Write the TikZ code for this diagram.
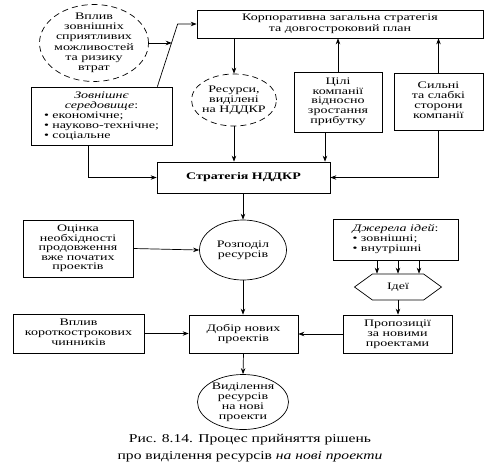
\documentclass[tikz,border=0pt]{standalone}
\usepackage{graphicx}
\usepackage{fontspec}
\setmainfont{Liberation Serif}
\usetikzlibrary{arrows.meta,shapes.geometric,shapes.symbols,calc}
\newcommand\hsx[1]{\scalebox{1.4}[1]{\begin{tabular}{@{}c@{}}#1\end{tabular}}}
\newcommand\hsl[1]{\scalebox{1.4}[1]{\begin{tabular}{@{}l@{}}#1\end{tabular}}}
\newcommand\ctr[1]{\multicolumn{1}{@{}c@{}}{#1}}
\begin{document}
\begin{tikzpicture}[x=1pt,y=-1pt,
  every node/.style={inner sep=0pt, font=\fontsize{10}{10}\selectfont, text=black},
  boxnode/.style={draw, rectangle},
  dashell/.style={draw, ellipse, dash pattern=on 6pt off 4pt},
  solell/.style={draw, ellipse},
  arr/.style={-{Stealth[length=6pt,width=4.5pt]}},
  line width=0.7pt]
\useasboundingbox (0,0) rectangle (492,467);

% top row
\node[boxnode, minimum width=286, minimum height=28, font=\fontsize{10}{11}\selectfont] (corp) at (340,24)
  {\hsx{Корпоративна загальна стратегія\\та довгостроковий план}};
\node[dashell, minimum width=109, minimum height=77, inner ysep=-12pt, inner xsep=-4pt, font=\fontsize{10}{10.3}\selectfont] (infl) at (94,43)
  {\hsx{Вплив\\зовнішніх\\сприятливих\\можливостей\\та ризику\\втрат}};

% second row
\node[boxnode, minimum width=141, minimum height=58] (env) at (101.5,116)
  {\hsl{\ctr{\itshape Зовнішнє}\\\ctr{\itshape середовище\upshape:}\\\textbullet\ економічне;\\\textbullet\ науково-технічне;\\\textbullet\ соціальне}};
\node[dashell, minimum width=85, minimum height=52, inner xsep=-3pt] (res) at (234,100)
  {\hsx{Ресурси,\\виділені\\на НДДКР}};
\node[boxnode, minimum width=88, minimum height=60, font=\fontsize{10}{9.6}\selectfont] (goals) at (338,102)
  {\hsx{Цілі\\компанії\\відносно\\зростання\\прибутку}};
\node[boxnode, minimum width=89, minimum height=57] (sw) at (438.5,101.5)
  {\hsx{Сильні\\та слабкі\\сторони\\компанії}};

% strategy
\node[boxnode, minimum width=173, minimum height=31, font=\fontsize{10}{12}\selectfont\bfseries] (strat) at (243.5,177.5)
  {\hsx{Стратегія НДДКР}};

% third row
\node[boxnode, minimum width=110, minimum height=57, font=\fontsize{10}{9.6}\selectfont] (assess) at (78,248.5)
  {\hsx{Оцінка\\необхідності\\продовження\\вже початих\\проектів}};
\node[solell, minimum width=87, minimum height=60, inner xsep=-3pt] (distr) at (243,250)
  {\hsx{Розподіл\\ресурсів}};
\node[boxnode, minimum width=125, minimum height=41] (src) at (395.5,239.5)
  {\hsl{\ctr{\itshape Джерела ідей\upshape:}\\\textbullet\ зовнішні;\\\textbullet\ внутрішні\hspace{22pt}}};
\node[draw, signal, signal to=east and west, signal pointer angle=72, minimum width=87, minimum height=26] (ideas) at (398,287)
  {\hsx{Ідеї}};

% fourth row
\node[boxnode, minimum width=131, minimum height=39] (short) at (78.5,333.5)
  {\hsx{Вплив\\короткострокових\\чинників}};
\node[boxnode, minimum width=109, minimum height=38] (sel) at (243.5,334)
  {\hsx{Добір нових\\проектів}};
\node[boxnode, minimum width=109, minimum height=38] (prop) at (397.5,334)
  {\hsx{Пропозиції\\за новими\\проектами}};

% bottom
\node[solell, minimum width=91, minimum height=55, inner ysep=-4pt, inner xsep=-3pt] (alloc) at (243,402)
  {\hsx{Виділення\\ресурсів\\на нові\\проекти}};
\node[font=\fontsize{12}{17}\selectfont] (cap) at (250,448)
  {\scalebox{1.3}[1]{\begin{tabular}{@{}c@{}}Рис. 8.14. Процес прийняття рішень\\про виділення ресурсів \textit{на нові проекти}\end{tabular}}};

% connectors
\coordinate (envtop) at ($(env.north east)+(-15,0)$);
\coordinate (bend) at ($(corp.west)+(-19,0)$);
\draw[arr] (envtop) -- (bend) -- (corp.west);
\path (envtop) -- (bend) coordinate[pos=0.71] (j);
\draw[arr] (infl.east) -- (infl.east -| j);

\draw[arr] (res.north |- corp.south) -- (res.north);
\draw[arr] (res.south) -- (res.south |- strat.north);
\draw[arr] (goals.north) -- (goals.north |- corp.south);
\coordinate (g2) at ($(goals.south)+(-13,0)$);
\draw[arr] (g2) -- (g2 |- strat.north);
\draw[arr] (sw.north) -- (sw.north |- corp.south);
\draw[arr] (sw.south) |- (strat.east);
\coordinate (e2) at ($(env.south)+(-13.5,0)$);
\draw[arr] (e2) |- (strat.west);

\draw[arr] (strat.south -| distr.north) -- (distr.north);
\draw[arr] (assess.east) -- (distr.west);
\draw[arr] (distr.south) -- (distr.south |- sel.north);

\coordinate (i1) at ($(ideas.north)+(-21,0)$);
\coordinate (i2) at (ideas.north);
\coordinate (i3) at ($(ideas.north)+(21,0)$);
\draw[arr] (i1 |- src.south) -- (i1);
\draw[arr] (i2 |- src.south) -- (i2);
\draw[arr] (i3 |- src.south) -- (i3);
\draw[arr] (ideas.south) -- (ideas.south |- prop.north);

\draw[arr] (short.east) -- (short.east -| sel.west);
\draw[arr] (prop.west) -- (prop.west -| sel.east);
\draw[arr] (sel.south) -- (alloc.north);
\end{tikzpicture}
\end{document}
